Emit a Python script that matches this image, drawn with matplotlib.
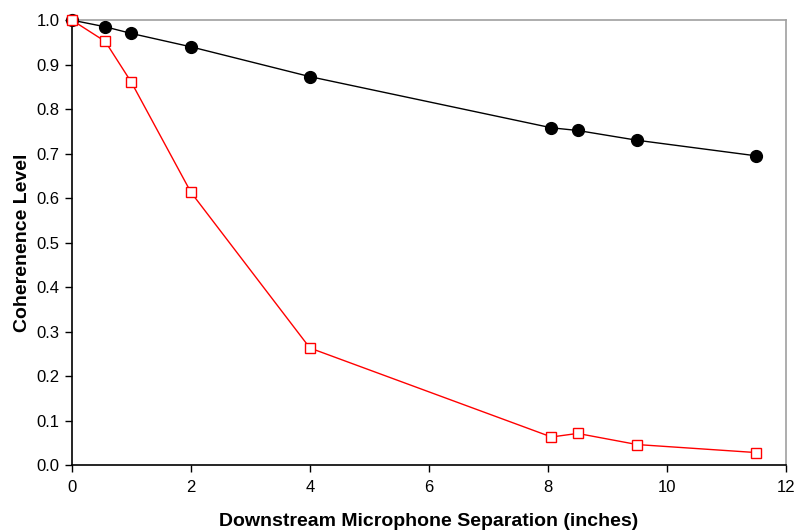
import matplotlib
matplotlib.use("Agg")
from matplotlib import pyplot as plt

plt.rcParams['font.family'] = ['Liberation Sans', 'DejaVu Sans']

# Microphone separations (inches) and measured coherence
separation = [0.0, 0.56, 1.0, 2.0, 4.0, 8.06, 8.5, 9.5, 11.5]
coherence_black = [1.0, 0.985, 0.970, 0.940, 0.873, 0.758, 0.752, 0.730, 0.695]
coherence_red = [1.0, 0.952, 0.860, 0.613, 0.263, 0.063, 0.071, 0.046, 0.028]

x_ticks = [0, 2, 4, 6, 8, 10, 12]
y_ticks = [0.0, 0.1, 0.2, 0.3, 0.4, 0.5, 0.6, 0.7, 0.8, 0.9, 1.0]

fig = plt.figure(figsize=(7.97, 5.30), dpi=100)
ax = fig.add_axes([0.0903, 0.1226, 0.8957, 0.8394])

ax.plot(separation, coherence_black, color='black', lw=1, marker='o', ms=8.5,
        mfc='black', mec='black', clip_on=False, zorder=3)
ax.plot(separation, coherence_red, color='red', lw=1, marker='s', ms=7,
        mfc='white', mec='red', mew=1, clip_on=False, zorder=4)

ax.set_xlim(0, 12)
ax.set_ylim(0, 1.0)
ax.set_xticks(x_ticks)
ax.set_yticks(y_ticks)
ax.set_yticklabels(['%.1f' % v for v in y_ticks])

# Black axis lines on left/bottom, grey frame on top/right
for side in ('left', 'bottom'):
    ax.spines[side].set_color('black')
    ax.spines[side].set_linewidth(1.2)
for side in ('top', 'right'):
    ax.spines[side].set_color('#a0a0a0')
    ax.spines[side].set_linewidth(1.2)

ax.tick_params(axis='both', direction='out', length=5, width=1, labelsize=12,
               top=False, right=False, pad=4)
ax.tick_params(axis='x', pad=6)

ax.set_xlabel('Downstream Microphone Separation (inches)', fontsize=14,
              fontweight='bold', labelpad=13)
ax.set_ylabel('Coherenence Level', fontsize=14, fontweight='bold', labelpad=4)

fig.savefig('out.png', dpi=100)
